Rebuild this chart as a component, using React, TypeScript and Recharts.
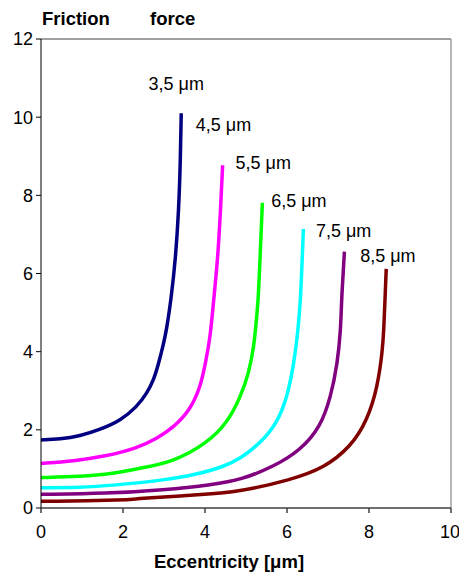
import React from "react";
import {
    LineChart,
    Line,
    XAxis,
    YAxis,
    ReferenceLine,
    ReferenceDot,
} from "recharts";

// Eccentricity [µm] vs friction force, one curve per clearance
const curve35X = [0, 0.46, 0.95, 1.44, 1.93, 2.34, 2.58, 2.75, 2.87, 2.99, 3.06, 3.17, 3.28, 3.36, 3.4, 3.42];
const curve35Y = [1.74, 1.76, 1.84, 2.01, 2.23, 2.59, 2.93, 3.28, 3.7, 4.21, 4.55, 5.32, 6.35, 7.63, 8.9, 10.1];

const curve45X = [0, 0.79, 1.61, 2.34, 2.83, 3.23, 3.64, 3.89, 4.01, 4.13, 4.21, 4.31, 4.38, 4.43];
const curve45Y = [1.14, 1.2, 1.33, 1.53, 1.78, 2.06, 2.51, 3.1, 3.7, 4.38, 5.32, 6.35, 7.63, 8.77];

const curve55X = [0, 0.95, 1.77, 2.42, 3.23, 4.05, 4.54, 4.87, 5.07, 5.19, 5.23, 5.3, 5.34, 5.4];
const curve55Y = [0.78, 0.8, 0.88, 1.02, 1.18, 1.66, 2.17, 2.85, 3.45, 4.13, 4.55, 5.32, 6.35, 7.81];

const curve65X = [0, 0.95, 1.77, 2.99, 3.81, 4.46, 4.87, 5.35, 5.76, 6.01, 6.17, 6.27, 6.33, 6.37, 6.4];
const curve65Y = [0.52, 0.52, 0.58, 0.71, 0.86, 1.06, 1.27, 1.66, 2.17, 2.85, 3.7, 4.55, 5.32, 6.35, 7.14];

const curve75X = [0, 1.6, 2.99, 4.21, 4.87, 5.68, 6.33, 6.82, 7.07, 7.23, 7.31, 7.33, 7.37, 7.4];
const curve75Y = [0.35, 0.37, 0.46, 0.6, 0.72, 1.06, 1.48, 2.08, 2.85, 3.7, 4.55, 5.32, 6.0, 6.56];

const curve85X = [0, 2.18, 2.26, 3.81, 4.87, 6.09, 6.9, 7.56, 7.96, 8.21, 8.33, 8.36, 8.39, 8.42];
const curve85Y = [0.17, 0.2, 0.24, 0.33, 0.42, 0.72, 1.02, 1.57, 2.25, 3.1, 4.04, 4.55, 5.32, 6.12];

const seriesNames = ["3,5 μm", "4,5 μm", "5,5 μm", "6,5 μm", "7,5 μm", "8,5 μm"];
const seriesColors = ["#000080", "#FF00FF", "#00FF00", "#00FFFF", "#800080", "#800000"];
// label anchor positions in data units
const labelX = [3.3, 4.45, 5.42, 6.29, 7.38, 8.46];
const labelY = [10.85, 9.8, 8.83, 7.87, 7.11, 6.47];

const xTicks = [0, 2, 4, 6, 8, 10];
const yTicks = [0, 2, 4, 6, 8, 10, 12];

const toPoints = (xs: number[], ys: number[]) => xs.map((x, i) => ({ x, y: ys[i] }));

const curves = [
    toPoints(curve35X, curve35Y),
    toPoints(curve45X, curve45Y),
    toPoints(curve55X, curve55Y),
    toPoints(curve65X, curve65Y),
    toPoints(curve75X, curve75Y),
    toPoints(curve85X, curve85Y),
];

const font = "'Liberation Sans', Arial, sans-serif";
const titleStyle = { fontSize: 18.5, fontWeight: "bold" as const, fill: "#000", fontFamily: font };

export default function App() {
    return (
        <div style={{ position: "relative", width: 459, height: 573, fontFamily: font }}>
            <style>{`body{margin:0}`}</style>
            <LineChart
                width={459}
                height={573}
                margin={{ top: 39, right: 8, bottom: 36, left: 11 }}
                style={{ position: "absolute", left: 0, top: 0 }}
            >
                <XAxis
                    type="number"
                    dataKey="x"
                    domain={[0, 10]}
                    ticks={xTicks}
                    allowDataOverflow
                    height={29}
                    stroke="#404040"
                    strokeWidth={1.5}
                    tickSize={5}
                    tickMargin={12}
                    tick={{ fontSize: 18, fill: "#000", fontFamily: font }}
                />
                <YAxis
                    type="number"
                    dataKey="y"
                    domain={[0, 12]}
                    ticks={yTicks}
                    allowDataOverflow
                    width={30}
                    stroke="#000"
                    tickSize={5}
                    tickMargin={3}
                    tick={{ fontSize: 18, fill: "#000", fontFamily: font }}
                />
                <ReferenceLine y={12} stroke="#808080" strokeWidth={1.5} />
                <ReferenceLine x={10} stroke="#a0a0a0" strokeWidth={1.5} />
                {curves.map((pts, i) => (
                    <Line
                        key={seriesNames[i]}
                        data={pts}
                        dataKey="y"
                        type="basis"
                        stroke={seriesColors[i]}
                        strokeWidth={3.5}
                        strokeLinejoin="round"
                        dot={false}
                        isAnimationActive={false}
                    />
                ))}
                {seriesNames.map((name, i) => (
                    <ReferenceDot
                        key={"lbl" + name}
                        x={labelX[i]}
                        y={labelY[i]}
                        r={1}
                        fill="none"
                        stroke="none"
                        label={{
                            value: name,
                            position: "center",
                            style: { fontSize: 18, fill: "#000", fontFamily: font },
                        }}
                    />
                ))}
            </LineChart>
            <svg
                width={459}
                height={573}
                style={{ position: "absolute", left: 0, top: 0, pointerEvents: "none" }}
            >
                <text x={42} y={25} {...titleStyle}>Friction</text>
                <text x={150} y={25} {...titleStyle}>force</text>
                <text x={229} y={568} textAnchor="middle" {...titleStyle}>Eccentricity [μm]</text>
            </svg>
        </div>
    );
}
